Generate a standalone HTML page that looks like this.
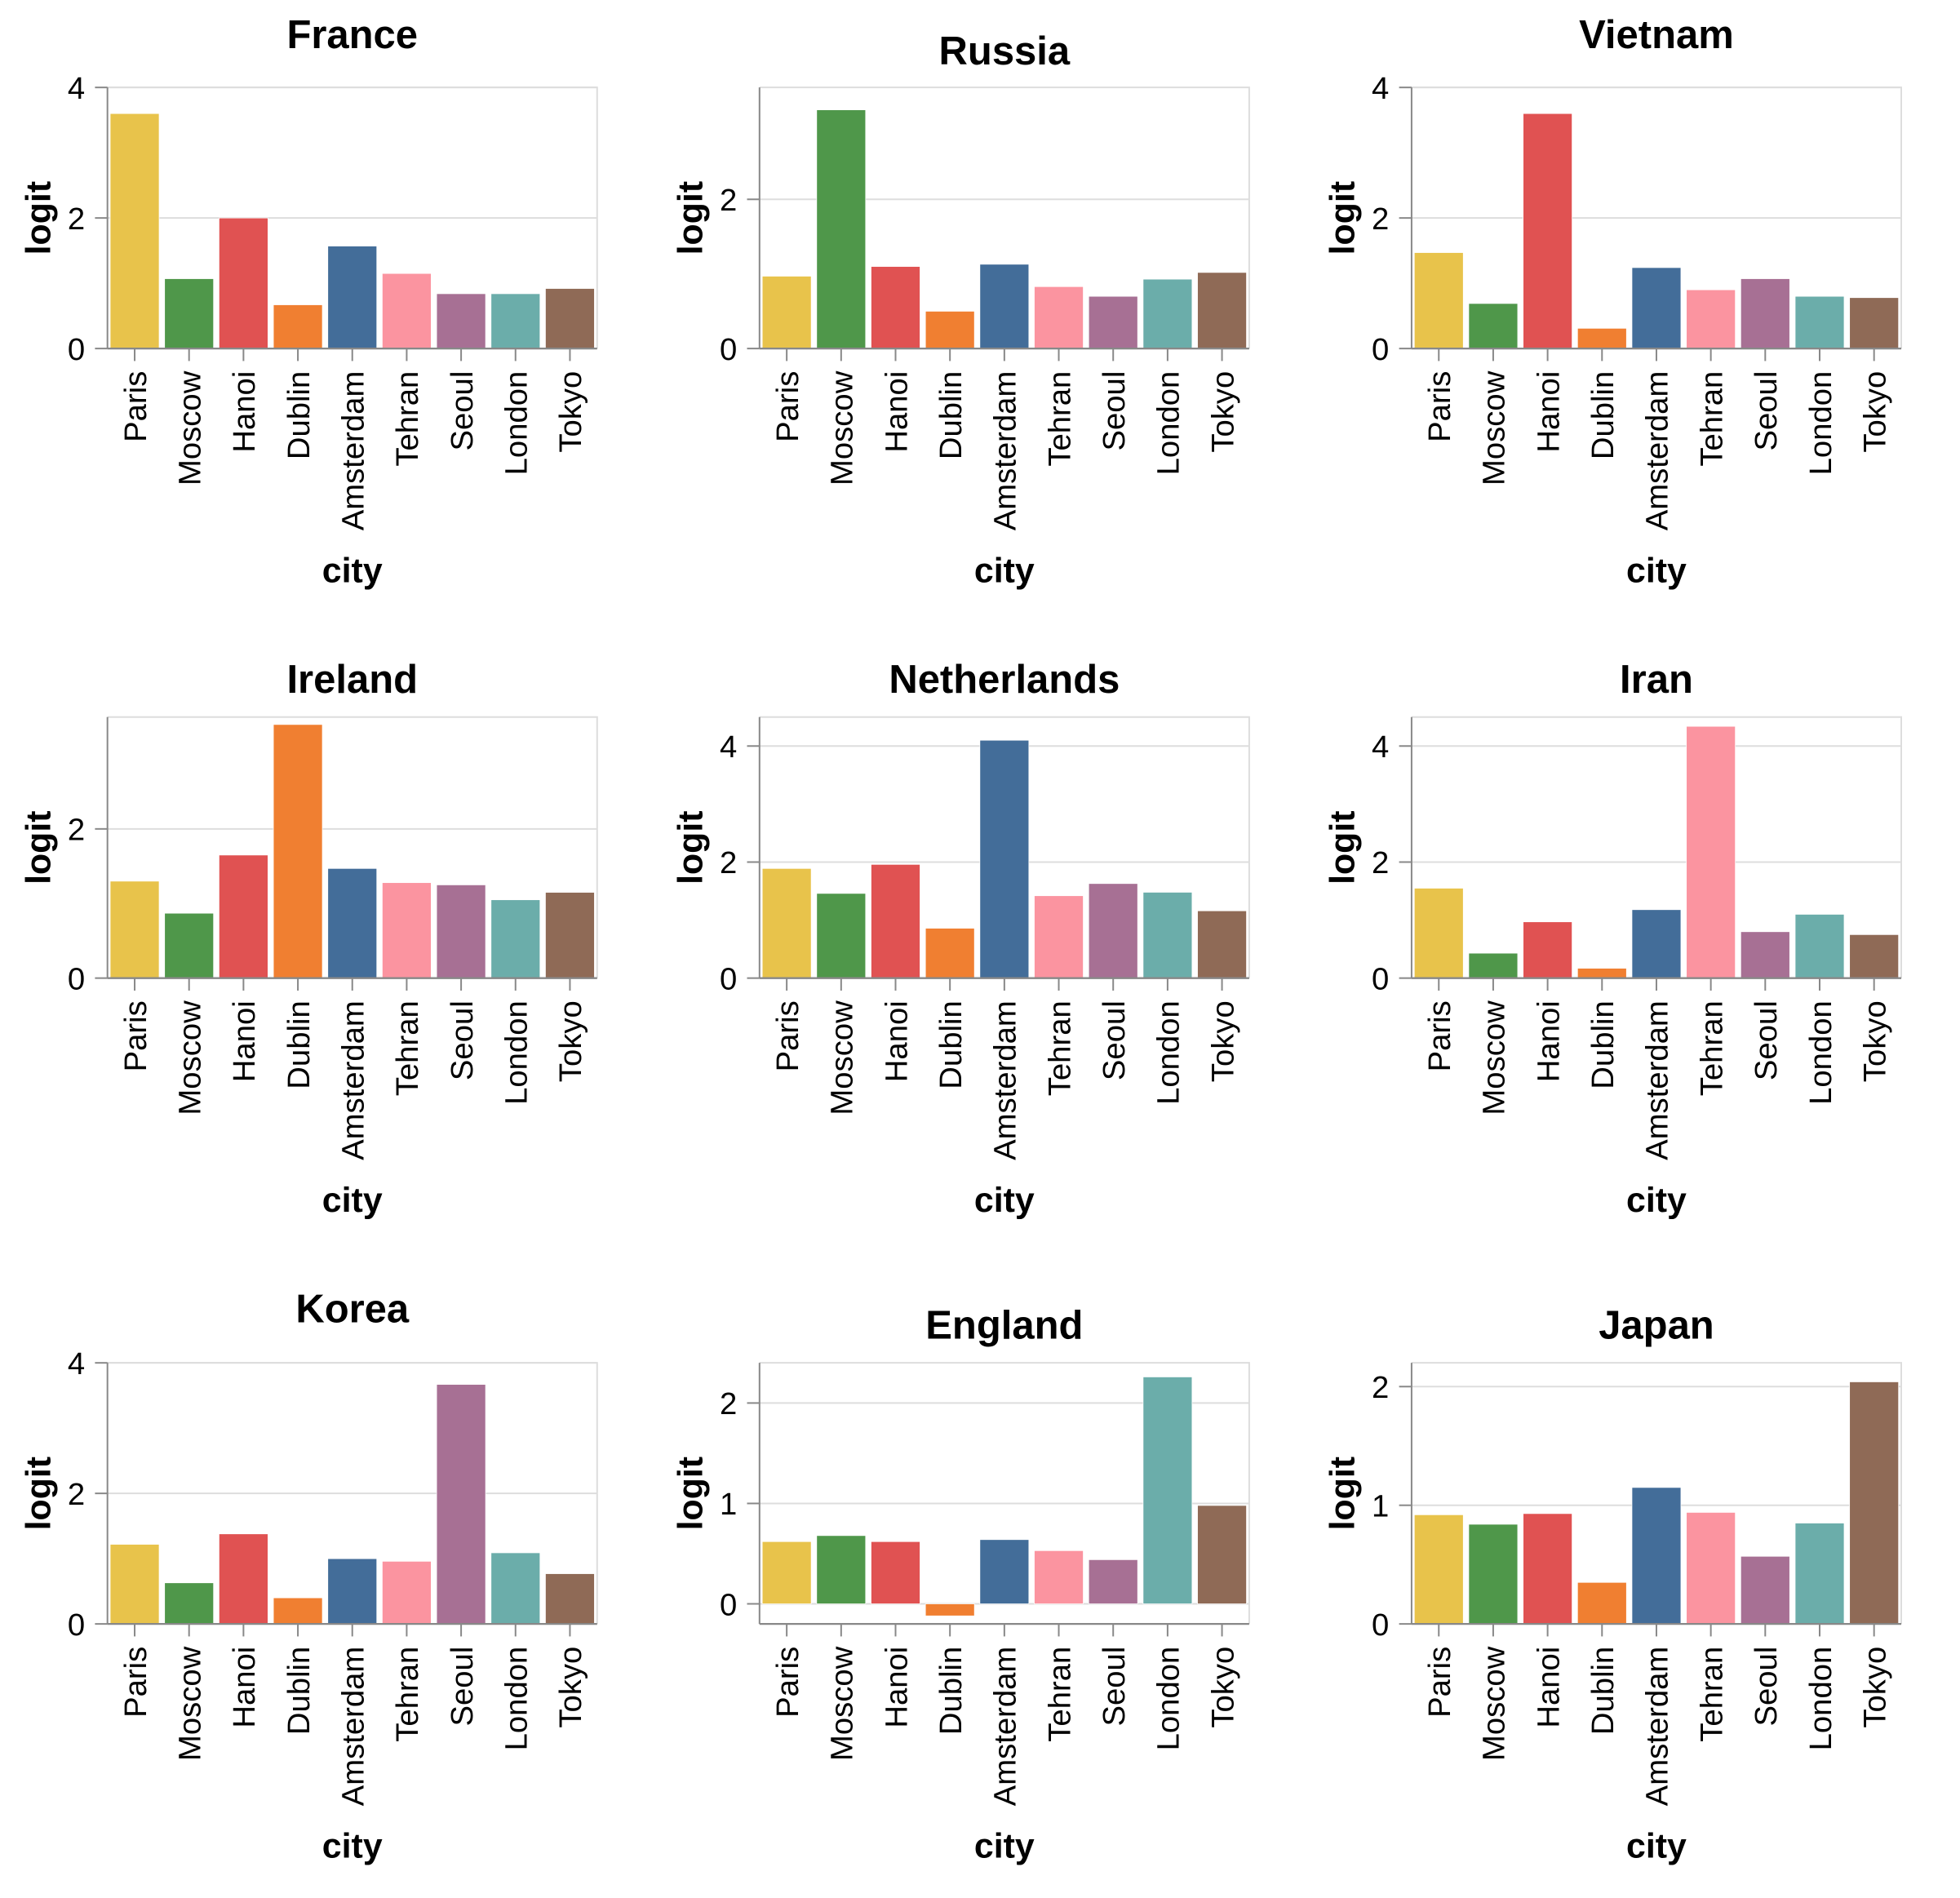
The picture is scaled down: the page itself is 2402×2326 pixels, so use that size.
<!DOCTYPE html>
<html><head><meta charset="utf-8"><style>
html,body{margin:0;padding:0;background:#fff}
svg{display:block}
text{font-family:"Liberation Sans",Arial,sans-serif}
</style></head><body>
<svg id="chart" width="2402" height="2326" viewBox="0 0 1569 1519.4" xmlns="http://www.w3.org/2000/svg"></svg>
<script>
const cities = ["Paris","Moscow","Hanoi","Dublin","Amsterdam","Tehran","Seoul","London","Tokyo"];
const cityColors = ["#e8c34b","#4f974a","#e05252","#f07f31","#436d99","#fb94a0","#a77094","#6badaa","#8f6a56"];
const countries = ["France","Russia","Vietnam","Ireland","Netherlands","Iran","Korea","England","Japan"];
const franceVals = [3.6,1.07,2.0,0.67,1.57,1.15,0.84,0.84,0.92];
const russiaVals = [0.97,3.2,1.1,0.5,1.13,0.83,0.7,0.93,1.02];
const vietnamVals = [1.47,0.69,3.6,0.31,1.24,0.9,1.07,0.8,0.78];
const irelandVals = [1.3,0.87,1.65,3.4,1.47,1.28,1.25,1.05,1.15];
const netherlandsVals = [1.89,1.46,1.96,0.86,4.1,1.42,1.63,1.48,1.16];
const iranVals = [1.55,0.43,0.97,0.17,1.18,4.34,0.8,1.1,0.75];
const koreaVals = [1.22,0.63,1.38,0.4,1.0,0.96,3.67,1.09,0.77];
const englandVals = [0.62,0.68,0.62,-0.12,0.64,0.53,0.44,2.26,0.98];
const japanVals = [0.92,0.84,0.93,0.35,1.15,0.94,0.57,0.85,2.04];
const yDomainMin = [0,0,0,0,0,0,0,-0.2,0];
const yDomainMax = [4,3.5,4,3.5,4.5,4.5,4,2.4,2.2];
const yTicks = [[0,2,4],[0,2],[0,2,4],[0,2],[0,2,4],[0,2,4],[0,2,4],[0,1,2],[0,1,2]];

const allVals = [franceVals,russiaVals,vietnamVals,irelandVals,netherlandsVals,iranVals,koreaVals,englandVals,japanVals];
const NS = "http://www.w3.org/2000/svg";
const svg = document.getElementById("chart");
function mk(tag, attrs, parent){const e=document.createElementNS(NS,tag);for(const k in attrs)e.setAttribute(k,attrs[k]);(parent||svg).appendChild(e);return e;}

const colX = [86,608,1130], rowY = [70,574,1091];
const W = 392, H = 209;
const titleOffsets = [[-43,-30,-43],[-31,-31,-31],[-44,-31,-31]];

for (let i=0;i<9;i++){
  const r=Math.floor(i/3), c=i%3;
  const x0=colX[c], y0=rowY[r];
  const g=mk("g",{});
  
  
  const lo=yDomainMin[i], hi=yDomainMax[i];
  const yS=v=>y0+H-(v-lo)/(hi-lo)*H;
  const step=W/9, bw=step*0.9;
  const xS=k=>x0+k*step+step*0.05;
  yTicks[i].forEach(t=>{
    const gl=mk("line",{x1:x0,x2:x0+W,y1:yS(t),y2:yS(t),stroke:"#ddd","stroke-width":1.3},g);
    
    
  });
  const br=mk("path",{d:`M${x0} ${y0}H${x0+W}V${y0+H}`,fill:"none",stroke:"#ddd","stroke-width":1.3},g);
  
  
  allVals[i].forEach((v,k)=>{
    const ya=yS(Math.max(v,0)), yb=yS(Math.min(v,0));
    const b=mk("rect",{x:xS(k),y:ya,width:bw,height:Math.max(yb-ya,0.5),fill:cityColors[k],stroke:"#fff","stroke-width":0.5},g);
    
    
  });
  const ya=mk("line",{x1:x0,x2:x0,y1:y0,y2:y0+H,stroke:"#888","stroke-width":1.3},g);
  
  
  yTicks[i].forEach(t=>{
    mk("line",{x1:x0-10,x2:x0,y1:yS(t),y2:yS(t),stroke:"#888","stroke-width":1.3},g);
    const tl=mk("text",{x:x0-18,y:yS(t)+9,"text-anchor":"end","font-size":25,fill:"#000"},g);
    tl.textContent=t;
    
    
  });
  const xa=mk("line",{x1:x0,x2:x0+W,y1:y0+H,y2:y0+H,stroke:"#888","stroke-width":1.5},g);
  
  
  cities.forEach((cn,k)=>{
    const cx=x0+k*step+step/2;
    mk("line",{x1:cx,x2:cx,y1:y0+H,y2:y0+H+10,stroke:"#888","stroke-width":1.3},g);
    const tl=mk("text",{transform:`translate(${cx+9},${y0+H+18}) rotate(-90)`,"text-anchor":"end","font-size":25,fill:"#000"},g);
    tl.textContent=cn;
    
    
  });
  const tt=mk("text",{x:x0+W/2,y:y0+titleOffsets[r][c]+11.5,"text-anchor":"middle","font-size":32,"font-weight":"bold",fill:"#000"},g);
  tt.textContent=countries[i];
  
  
  const xt=mk("text",{x:x0+W/2,y:y0+H+187,"text-anchor":"middle","font-size":28,"font-weight":"bold",fill:"#000"},g);
  xt.textContent="city";
  
  
  const yt=mk("text",{transform:`translate(${x0-46},${y0+H/2}) rotate(-90)`,"text-anchor":"middle","font-size":28,"font-weight":"bold",fill:"#000"},g);
  yt.textContent="logit";
  
  
}
</script>
</body></html>
